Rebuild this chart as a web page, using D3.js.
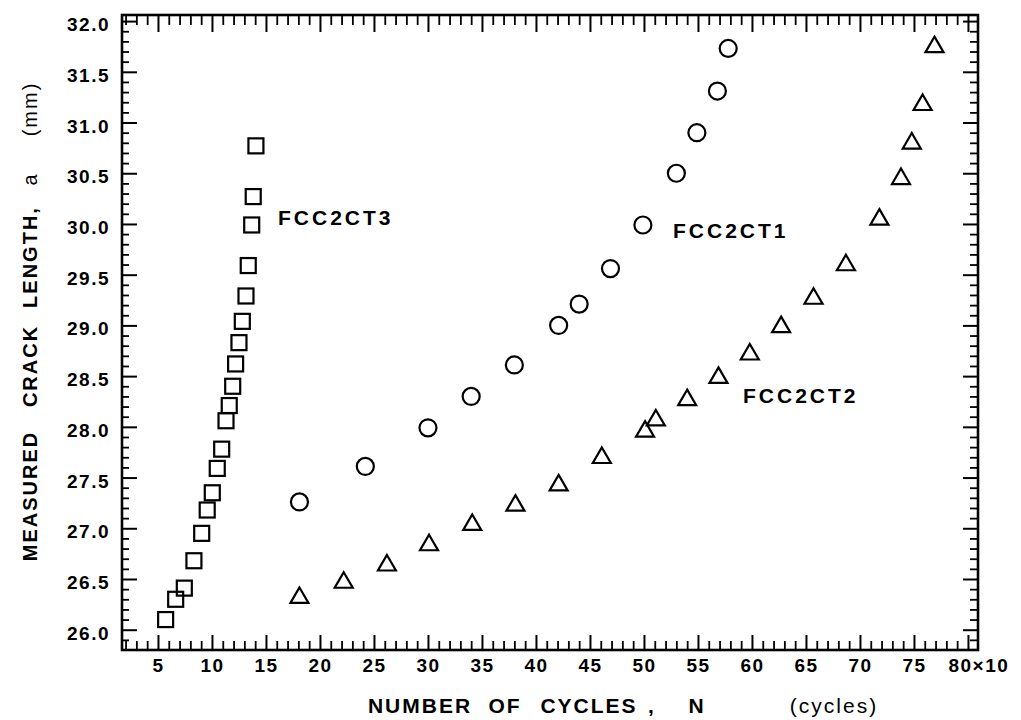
<!DOCTYPE html>
<html>
<head>
<meta charset="utf-8">
<script src="https://cdn.jsdelivr.net/npm/d3@7"></script>
<style>
  html, body { margin: 0; padding: 0; background: #fff; }
  svg { display: block; }
  text { font-family: "Liberation Sans", Arial, sans-serif; fill: #000; }
</style>
</head>
<body>
<svg id="chart" width="1021" height="720"></svg>
<script>
// ---- data ----
const seriesNames = ["FCC2CT1", "FCC2CT2", "FCC2CT3"];

const ct1Cycles = [18.1, 24.2, 30.0, 34.0, 38.0, 42.1, 44.0, 46.9, 49.9, 53.0, 54.9, 56.8, 57.8];
const ct1Crack  = [27.26, 27.61, 27.99, 28.30, 28.61, 29.00, 29.21, 29.56, 29.99, 30.50, 30.90, 31.31, 31.73];

const ct2Cycles = [18.1, 22.2, 26.2, 30.1, 34.1, 38.1, 42.1, 46.1, 50.1, 51.1, 54.0, 56.9, 59.8, 62.7, 65.7, 68.7, 71.8, 73.8, 74.8, 75.8, 76.9];
const ct2Crack  = [26.34, 26.49, 26.66, 26.86, 27.06, 27.25, 27.45, 27.72, 27.98, 28.09, 28.29, 28.51, 28.74, 29.01, 29.29, 29.62, 30.07, 30.47, 30.82, 31.20, 31.77];

const ct3Cycles = [5.71, 6.64, 7.44, 8.33, 9.05, 9.56, 10.03, 10.49, 10.9, 11.3, 11.6, 11.92, 12.19, 12.5, 12.81, 13.15, 13.36, 13.68, 13.82, 14.07];
const ct3Crack  = [26.10, 26.30, 26.41, 26.68, 26.95, 27.18, 27.35, 27.59, 27.78, 28.06, 28.21, 28.40, 28.62, 28.83, 29.04, 29.29, 29.59, 29.99, 30.27, 30.77];

const xTickValues = [5, 10, 15, 20, 25, 30, 35, 40, 45, 50, 55, 60, 65, 70, 75, 80];
const xTickLabels = ["5", "10", "15", "20", "25", "30", "35", "40", "45", "50", "55", "60", "65", "70", "75", "80×10"];
const yTickValues = [26.0, 26.5, 27.0, 27.5, 28.0, 28.5, 29.0, 29.5, 30.0, 30.5, 31.0, 31.5, 32.0];
const yTickLabels = ["26.0", "26.5", "27.0", "27.5", "28.0", "28.5", "29.0", "29.5", "30.0", "30.5", "31.0", "31.5", "32.0"];

const xTitleWords = ["NUMBER", "OF", "CYCLES", ",", "N", "(cycles)"];
const yTitleWords = ["MEASURED", "CRACK", "LENGTH,", "a", "(mm)"];

// ---- layout ----
const L = 122, R = 978, T = 15, B = 650;
const svg = d3.select("#chart");

const x = d3.scaleLinear().domain([1.67, 80.93]).range([L, R]);
const y = d3.scaleLinear().domain([25.8, 32.06]).range([B, T]);

const xMinor = d3.range(2, 81).filter(v => v % 5 !== 0);
const yMinor = d3.range(259, 321).filter(v => v % 5 !== 0).map(v => v / 10);

function styleAxis(g, width) {
  g.select(".domain").remove();
  g.selectAll(".tick line").attr("stroke", "#000").attr("stroke-width", width);
}

// minor ticks
svg.append("g").attr("transform", `translate(0,${B})`)
  .call(d3.axisBottom(x).tickValues(xMinor).tickSize(-9).tickFormat(""))
  .call(g => styleAxis(g, 1.8));
svg.append("g").attr("transform", `translate(0,${T})`)
  .call(d3.axisTop(x).tickValues(xMinor).tickSize(-10).tickFormat(""))
  .call(g => styleAxis(g, 1.8));
svg.append("g").attr("transform", `translate(${L},0)`)
  .call(d3.axisLeft(y).tickValues(yMinor).tickSize(-7).tickFormat(""))
  .call(g => styleAxis(g, 1.8));
svg.append("g").attr("transform", `translate(${R},0)`)
  .call(d3.axisRight(y).tickValues(yMinor).tickSize(-8).tickFormat(""))
  .call(g => styleAxis(g, 1.8));

// major ticks with labels
const xAxis = svg.append("g").attr("transform", `translate(0,${B})`)
  .call(d3.axisBottom(x).tickValues(xTickValues).tickSize(-15).tickPadding(9)
        .tickFormat((d, i) => xTickLabels[i]))
  .call(g => styleAxis(g, 2));
xAxis.selectAll(".tick text")
  .attr("font-size", 19).attr("font-weight", "bold").attr("letter-spacing", 1.5)
  .attr("font-family", "Liberation Sans, Arial, sans-serif").attr("fill", "#000");
xAxis.selectAll(".tick text").filter((d, i) => i === xTickValues.length - 1)
  .attr("text-anchor", "start").attr("dx", -20);

svg.append("g").attr("transform", `translate(0,${T})`)
  .call(d3.axisTop(x).tickValues(xTickValues).tickSize(-17).tickFormat(""))
  .call(g => styleAxis(g, 2));

const yAxis = svg.append("g").attr("transform", `translate(${L},0)`)
  .call(d3.axisLeft(y).tickValues(yTickValues).tickSize(-15).tickPadding(12)
        .tickFormat((d, i) => yTickLabels[i]))
  .call(g => styleAxis(g, 2));
yAxis.selectAll(".tick text")
  .attr("font-size", 19).attr("font-weight", "bold").attr("letter-spacing", 1.5)
  .attr("font-family", "Liberation Sans, Arial, sans-serif").attr("fill", "#000")
  .attr("dy", "0.5em");

svg.append("g").attr("transform", `translate(${R},0)`)
  .call(d3.axisRight(y).tickValues(yTickValues).tickSize(-15).tickFormat(""))
  .call(g => styleAxis(g, 2));

// frame
svg.append("rect")
  .attr("x", L).attr("y", T).attr("width", R - L).attr("height", B - T)
  .attr("fill", "none").attr("stroke", "#000").attr("stroke-width", 2.6);

// ---- markers ----
const ct1 = ct1Cycles.map((c, i) => ({ c, a: ct1Crack[i] }));
const ct2 = ct2Cycles.map((c, i) => ({ c, a: ct2Crack[i] }));
const ct3 = ct3Cycles.map((c, i) => ({ c, a: ct3Crack[i] }));

const mk = svg.append("g").attr("fill", "none").attr("stroke", "#000").attr("stroke-width", 2.2);

mk.selectAll("circle.ct1").data(ct1).join("circle")
  .attr("class", "ct1")
  .attr("cx", d => x(d.c)).attr("cy", d => y(d.a)).attr("r", 8.5);

const triS = 18, triH = 15.5;
mk.selectAll("path.ct2").data(ct2).join("path")
  .attr("class", "ct2")
  .attr("stroke-linejoin", "miter")
  .attr("d", d => {
    const cx = x(d.c), cy = y(d.a);
    return `M${cx},${cy - triH / 2}L${cx + triS / 2},${cy + triH / 2}L${cx - triS / 2},${cy + triH / 2}Z`;
  });

const sq = 15;
mk.selectAll("rect.ct3").data(ct3).join("rect")
  .attr("class", "ct3")
  .attr("x", d => x(d.c) - sq / 2).attr("y", d => y(d.a) - sq / 2)
  .attr("width", sq).attr("height", sq);

// ---- series labels ----
const labelStyle = sel => sel.attr("font-size", 21).attr("font-weight", "bold").attr("letter-spacing", 3);
svg.append("text").attr("x", 673).attr("y", 238).text(seriesNames[0]).call(labelStyle);
svg.append("text").attr("x", 743).attr("y", 403).text(seriesNames[1]).call(labelStyle);
svg.append("text").attr("x", 278).attr("y", 225).text(seriesNames[2]).call(labelStyle);

// ---- axis titles ----
const xTitleCenters = [420, 505, 589, 652, 697, 834];
svg.append("g").selectAll("text").data(xTitleWords).join("text")
  .attr("x", (d, i) => xTitleCenters[i]).attr("y", 713)
  .attr("text-anchor", "middle")
  .attr("font-size", 21)
  .attr("font-weight", (d, i) => i === 5 ? "normal" : "bold")
  .attr("letter-spacing", 2)
  .text(d => d);

const yTitleCenters = [496, 366, 257, 179, 109];
svg.append("g").selectAll("text").data(yTitleWords).join("text")
  .attr("transform", (d, i) => `translate(37,${yTitleCenters[i]}) rotate(-90)`)
  .attr("text-anchor", "middle")
  .attr("font-size", 20)
  .attr("font-weight", (d, i) => i >= 3 ? "normal" : "bold")
  .attr("letter-spacing", 2)
  .text(d => d);
</script>
</body>
</html>
